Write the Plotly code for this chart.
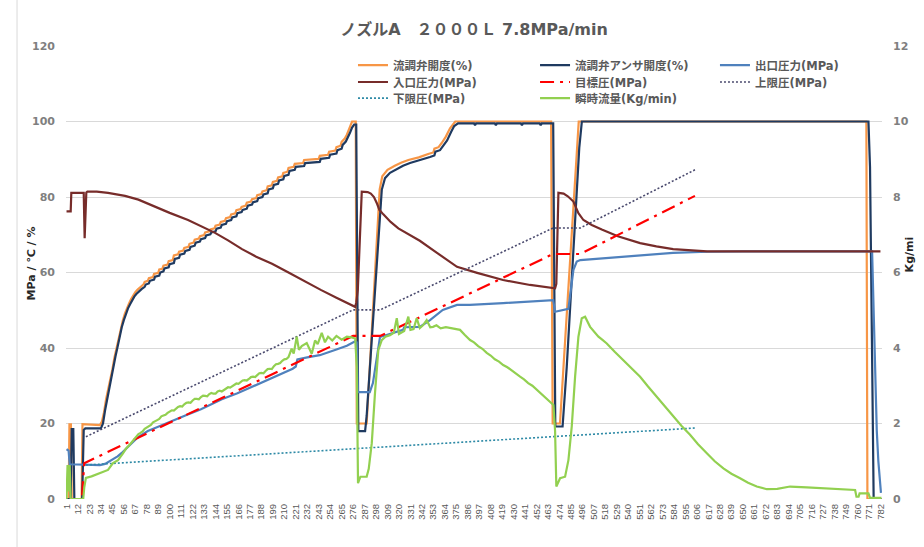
import plotly.graph_objects as go

# ---------------------------------------------------------------
# Logged channels: (sample No., value)
# ---------------------------------------------------------------
chart_title = "ノズルA　２０００Ｌ 7.8MPa/min"

# 流調弁開度 (%)
valve_cmd = [(1,0),(3,0),(3.8,19.8),(5.2,19.8),(6,0),(15.5,0),(16.3,19.8),(33,19.6),(35,20.5),(37,23),(39,26.5),
             (41,29),(43,31.5),(45,34.3),(47,37.5),(49,40),(51,42.8),(53,45.3),(55,47.3),(57,49.1),(59,50.6),
             (61,51.8),(63,53),(65,54),(67,54.8),(69,55.4),(72,56.2),(75,56.9),(76,57.5),(79,57.8),(80,58.5),
             (84,58.8),(85,59.6),(89,59.9),(90,60.8),(93,61),(94,61.8),(98,62.1),(99,63),(103,63.3),(104,64.5),
             (108,64.8),(109,65.5),(113,65.8),(114,66.5),(118,66.8),(119,67.6),(123,67.9),(124,68.7),(128,69),
             (129,69.6),(133,69.9),(134,70.6),(138,70.9),(139,71.4),(143,71.7),(144,72.4),(148,72.7),(149,73.4),
             (153,73.7),(154,74.4),(158,74.7),(159,75.4),(163,75.7),(164,76.5),(168,76.8),(169,77.4),(173,77.7),
             (174,78.5),(178,78.8),(179,79.4),(183,79.7),(184,80.5),(188,80.8),(189,81.5),(193,81.8),(194,82.8),
             (198,83.1),(199,84),(203,84.3),(204,85.2),(208,85.5),(209,86.4),(213,86.7),(214,87.7),(219,88),
             (220,88.8),(228,89),(229,89.8),(243,90.1),(244,90.9),(252,91.2),(253,92),(259,92.3),(260,93.2),
             (264,93.6),(265,94.6),(268,95.5),(270,96.5),(272,97.8),(274,99.2),(275,100),(278.5,100),(279.5,20),
             (289,20),(301.5,82),(304,85.5),(309,87.2),(316,88.3),(322,89.1),(329,89.8),(339,90.5),(348,91.4),
             (353,91.8),(354,92.8),(358,93.2),(361,94.3),(365,96),(369,98.2),(372,99.5),(374,100),(466,100),
             (467.5,20),(474.5,20),(492.5,100),(768.5,100),(769.5,0),(783,0)]

# 流調弁アンサ開度 (%)
valve_ans = [(1,0),(5,0),(6,18.5),(7.5,18.5),(8.5,0),(16,0),(17.5,18.3),(19,18.7),(34,18.7),(36,20),(38,23.5),
             (40,26.5),(42,29),(44,32),(46,34.8),(48,37.8),(50,40.3),(52,43),(54,45.5),(56,47.4),(58,49),(60,50.5),
             (62,51.6),(64,52.7),(66,53.6),(68,54.3),(70,54.9),(73,55.6),(76,56.2),(77,56.8),(80,57.1),(81,57.8),
             (85,58.1),(86,58.9),(90,59.2),(91,60),(94,60.3),(95,61.1),(99,61.4),(100,62.2),(104,62.5),(105,63.6),
             (109,63.9),(110,64.7),(114,65),(115,65.7),(119,66),(120,66.8),(124,67.1),(125,67.9),(129,68.2),
             (130,68.8),(134,69.1),(135,69.8),(139,70.1),(140,70.6),(144,70.9),(145,71.6),(149,71.9),(150,72.6),
             (154,72.9),(155,73.6),(159,73.9),(160,74.6),(164,74.9),(165,75.7),(169,76),(170,76.6),(174,76.9),
             (175,77.7),(179,78),(180,78.6),(184,78.9),(185,79.7),(189,80),(190,80.7),(194,81),(195,82),(199,82.3),
             (200,83.2),(204,83.5),(205,84.4),(209,84.7),(210,85.6),(214,85.9),(215,86.9),(220,87.2),(221,88),
             (229,88.2),(230,89),(244,89.3),(245,90.1),(253,90.4),(254,91.2),(260,91.5),(261,92.4),(265,92.8),
             (266,93.8),(269,94.7),(271,95.7),(273,97),(275,98.4),(277,99.2),(279,99.2),(281,18),(287.5,18),
             (289,22),(303.5,81.9),(306.6,85),(311.4,86.4),(318,87.5),(323.9,88.3),(330.6,89),(340.2,89.7),
             (349.8,90.6),(354,91),(355,92),(359.4,92.4),(362,93.5),(366.2,95),(370,97.2),(373,98.8),(376.7,99.5),
             (392,99.5),(393,99.0),(394,99.5),(412,99.5),(413,99.0),(414,99.5),(437,99.5),(438,99.0),(439,99.5),
             (455,99.5),(456,99.0),(457,99.5),(468,99.5),(470,19.2),(477,19.2),(481,35),(486,60),(490,80),
             (493,93),(495.5,100),(770.5,100),(772,88),(773.5,45),(775.5,0),(783,0)]

# 出口圧力 (MPa)
outlet_p = [(1,13.2),(3,12.8),(4,9.2),(33,9.0),(38,9.3),(44,10.3),(50,11.3),(54,12.2),(59,13.5),(63.5,14.8),
            (68,16.0),(73,17.0),(79,18.0),(86,18.8),(100,20.3),(115,22.1),(130,23.8),(150,26.4),(165,28.0),
            (180,29.9),(196,31.8),(210,33.5),(218,34.5),(221,35.1),(222.5,37.0),(232,37.5),(244,38.1),(260,39.6),
            (270,40.6),(278,41.8),(279.5,41.5),(280.5,28.3),(292,28.3),(295,30.7),(298,36),(301.8,42.9),
            (306.6,43.3),(318,44.2),(323.9,44.8),(325,45.5),(340,45.6),(349.8,47.4),(356,48.9),(362,50.1),
            (375.7,51.4),(388,51.4),(420,51.9),(445,52.3),(468,52.7),(469.8,49.6),(482.6,50.4),(487.4,60.7),
            (490.6,62.9),(494,63.3),(519.7,63.8),(551,64.4),(583,65.2),(616,65.5),(650,65.6),(774,65.6),
            (775.5,50),(777,30),(778.5,18),(780,10),(781.5,4.5),(782.5,1.6)]

# 入口圧力 (MPa)
inlet_p = [(1,76.2),(5,76.2),(5.6,81.1),(17.5,81.1),(18.4,69.1),(20,81.2),(21,81.4),(30,81.4),(40.8,81.1),
           (57.1,80.3),(70,79.3),(85.9,77.4),(100,75.8),(117.6,73.9),(130,72.3),(143.5,70.5),(156,68.5),
           (169.4,66.2),(183,64.2),(198.2,62.3),(214,60.0),(229.9,57.6),(245,55.4),(260,53.3),(270,52.0),
           (277.9,50.9),(279,52),(280.5,55.4),(284.3,81.4),(290,81.3),(293,80.9),(296,80.0),(299,78.2),
           (301.2,76.6),(305,75.4),(312,73.4),(319.4,71.7),(330,70.0),(340,68.4),(356.5,65.2),(375.7,61.5),
           (395,59.9),(419.9,58.0),(445.8,56.7),(467.9,55.9),(469.8,55.8),(471,57),(473,81.1),(478,80.9),
           (482,80.2),(487.4,78.8),(490,77.0),(492.2,75.7),(497,73.9),(505,72.6),(514.6,71.4),(530,69.6),
           (551.4,67.8),(567,66.9),(583.1,66.2),(600,65.8),(615.7,65.6),(650,65.6),(782,65.6)]

# 目標圧 / 上限圧 / 下限圧 (MPa)
target_p = [(16,1),(18,9.5),(276,43.2),(302,43.2),(468,64.9),(494,64.9),(604,80.3)]
upper_p = [(19.6,16.5),(276,50.1),(302,50.1),(468,71.8),(494,71.8),(604,87.2)]
lower_p = [(19.6,9.0),(604,18.8)]

# 瞬時流量 (Kg/min) - secondary axis
flow = [(1,0),(2,0.9),(3,0.2),(4,0.9),(5,0),(17,0),(18,0.3),(19.6,0.56),(25,0.6),(33.5,0.69),(40.8,0.77),
        (45.6,0.95),(50.4,1.03),(55,1.2),(58,1.33),(62,1.45),(64,1.52),(66,1.56),(68,1.66),(70,1.72),(72,1.75),
        (74,1.79),(76,1.86),(78,1.9),(80,1.93),(82,1.96),(84,2.03),(86,2.07),(88,2.09),(90,2.12),(92,2.19),
        (94,2.21),(96,2.23),(98,2.28),(100,2.32),(102,2.35),(104,2.34),(106,2.4),(108,2.44),(110,2.46),
        (112,2.45),(114,2.51),(116,2.55),(118,2.56),(120,2.55),(122,2.61),(124,2.65),(126,2.65),(128,2.64),
        (130,2.7),(132,2.74),(134,2.73),(136,2.72),(138,2.78),(140,2.81),(142,2.79),(144,2.79),(146,2.85),
        (148,2.87),(150,2.85),(152,2.88),(154,2.93),(156,2.96),(158,2.95),(160,2.99),(162,3.04),(164,3.06),
        (166,3.05),(168,3.09),(170,3.14),(172,3.15),(174,3.14),(176,3.18),(178,3.23),(180,3.24),(182,3.23),
        (184,3.28),(186,3.33),(188,3.34),(190,3.33),(192,3.39),(194,3.44),(196,3.45),(198,3.44),(200,3.52),
        (202,3.57),(204,3.58),(206,3.6),(208,3.66),(210,3.7),(212,3.71),(214,3.76),(217,3.98),(219,3.85),
        (221.9,4.3),(224,3.95),(226.7,4.05),(231.5,4.13),(236.3,3.85),(239.5,4.2),(242,4.1),(245.9,4.4),
        (249,4.15),(252,4.3),(256,4.2),(260,4.32),(265,4.22),(270,4.3),(274.7,4.28),(278,4.25),(279.5,3.5),
        (280.7,0.42),(283,0.59),(289,0.59),(291,0.8),(293.9,1.48),(297,2.81),(300.2,3.95),(303.5,4.21),
        (307,4.3),(311.4,4.34),(315,4.4),(317.9,4.79),(320,4.37),(325,4.45),(329,4.83),(331,4.48),(334,4.5),
        (337,4.79),(340,4.53),(343,4.6),(346.6,4.74),(350,4.55),(352.7,4.56),(356,4.6),(360,4.52),(365,4.55),
        (369,4.53),(374,4.5),(378.6,4.48),(383,4.35),(388.2,4.21),(392,4.15),(396,4.05),(400,3.98),
        (404.2,3.87),(408,3.8),(412,3.7),(416,3.64),(420,3.55),(424,3.49),(428,3.4),(432,3.33),(436.2,3.24),
        (440,3.17),(444,3.07),(448,3.0),(452.2,2.89),(456,2.8),(460,2.7),(465,2.55),(468.2,2.49),(469.8,1.8),
        (471,0.33),(474.6,0.55),(479.4,0.59),(482.6,1.03),(485.8,1.92),(489,3.24),(492.2,4.3),(495.4,4.79),
        (498.6,4.83),(503.4,4.56),(507,4.44),(511.4,4.3),(515,4.22),(519.4,4.12),(527,3.9),(535.4,3.68),
        (543,3.47),(551.4,3.24),(559,2.98),(567.4,2.71),(575,2.45),(583.4,2.18),(591,1.94),(599.3,1.70),
        (607,1.45),(615.4,1.21),(623,1.0),(631.3,0.81),(639,0.67),(647.3,0.55),(655,0.43),(663.3,0.33),
        (673,0.26),(683,0.27),(695.3,0.33),(711.3,0.31),(727.3,0.29),(743.3,0.26),(757.7,0.24),(759,0.06),
        (761,0.06),(762,0.15),(770.5,0.15),(772,0.03),(783,0.03)]

x_ticks = list(range(1, 783, 11))
x_tick_labels = [str(v) for v in x_ticks]
left_ticks = [0, 20, 40, 60, 80, 100, 120]
right_ticks = [0, 2, 4, 6, 8, 10, 12]

# (name, data, color, width, dash, axis, legend slot)
series = [
    ("流調弁開度(%)", valve_cmd, "#F79646", 2.2, "solid", "y", "legend"),
    ("流調弁アンサ開度(%)", valve_ans, "#1F3A60", 2.2, "solid", "y", "legend2"),
    ("出口圧力(MPa)", outlet_p, "#4F81BD", 2.2, "solid", "y", "legend3"),
    ("入口圧力(MPa)", inlet_p, "#772C2A", 2.2, "solid", "y", "legend4"),
    ("目標圧(MPa)", target_p, "#FF0000", 2.2, "14px,6px,3px,6px", "y", "legend5"),
    ("上限圧(MPa)", upper_p, "#4A4A6E", 1.6, "2px,2px", "y", "legend6"),
    ("下限圧(MPa)", lower_p, "#2E8AA6", 1.6, "2px,2px", "y", "legend7"),
    ("瞬時流量(Kg/min)", flow, "#92D050", 2.2, "solid", "y2", "legend8"),
]

fig = go.Figure()
for name, pts, color, width, dash, axis, leg in series:
    xs = [p[0] for p in pts]
    ys = [p[1] for p in pts]
    fig.add_trace(go.Scatter(
        x=xs, y=ys, name=name, mode="lines", yaxis=axis, legend=leg,
        line=dict(color=color, width=width, dash=dash),
    ))

# one-item legends laid out on a 3-column grid
legend_font = dict(family="DejaVu Sans, Noto Sans CJK JP", size=11.5, color="#595959", weight="bold")
col_x = [0.3517, 0.5748, 0.7953]
row_y = [0.958, 0.9205, 0.885]
slots = [(0, 0), (1, 0), (2, 0), (0, 1), (1, 1), (2, 1), (0, 2), (1, 2)]
legend_layout = {}
for i, (c, r) in enumerate(slots):
    key = "legend" if i == 0 else f"legend{i + 1}"
    legend_layout[key] = dict(
        x=col_x[c], y=row_y[r], xanchor="left", yanchor="middle",
        bgcolor="rgba(0,0,0,0)", borderwidth=0, font=legend_font,
        itemwidth=30, tracegroupgap=0,
    )

tick_font = dict(family="DejaVu Sans", size=11, color="#7F7F7F", weight="bold")

fig.update_layout(
    width=924, height=547,
    margin=dict(l=66, r=42, t=46, b=48),
    paper_bgcolor="white", plot_bgcolor="white",
    showlegend=True,
    title=dict(
        text=chart_title, x=0.513, xanchor="center", y=0.947, yanchor="middle",
        font=dict(family="DejaVu Sans, Noto Sans CJK JP", size=16, color="#595959", weight="bold"),
    ),
    xaxis=dict(
        range=[0.5, 783.5], tickmode="array", tickvals=x_ticks, ticktext=x_tick_labels,
        tickangle=-90, tickfont=dict(family="Liberation Sans", size=9.5, color="#595959"),
        showgrid=False, zeroline=False, showline=False, ticks="", ticklabelstandoff=2,
    ),
    yaxis=dict(
        range=[0, 120], tickmode="array", tickvals=left_ticks, tickfont=tick_font,
        showgrid=True, gridcolor="#D9D9D9", gridwidth=1, zeroline=False, showline=False,
        ticks="", ticklabelstandoff=10,
    ),
    yaxis2=dict(
        range=[0, 12], tickmode="array", tickvals=right_ticks, tickfont=tick_font,
        overlaying="y", side="right", showgrid=False, zeroline=False, showline=False,
        ticks="", ticklabelstandoff=10,
    ),
    annotations=[
        dict(text="MPa / ℃ / %", xref="paper", yref="paper", x=-0.0429, y=0.52,
             textangle=-90, showarrow=False, xanchor="center", yanchor="middle",
             font=dict(family="DejaVu Sans, Noto Sans CJK JP", size=11, color="#262626", weight="bold")),
        dict(text="Kg/mi", xref="paper", yref="paper", x=1.0331, y=0.54,
             textangle=-90, showarrow=False, xanchor="center", yanchor="middle",
             font=dict(family="DejaVu Sans", size=11, color="#262626", weight="bold")),
    ],
    shapes=[
        dict(type="line", xref="paper", yref="paper", x0=-0.0600, x1=-0.0600, y0=-0.106, y1=1.1015,
             line=dict(color="#D9D9D9", width=1)),
    ],
    **legend_layout,
)

fig.write_html("out.html")
